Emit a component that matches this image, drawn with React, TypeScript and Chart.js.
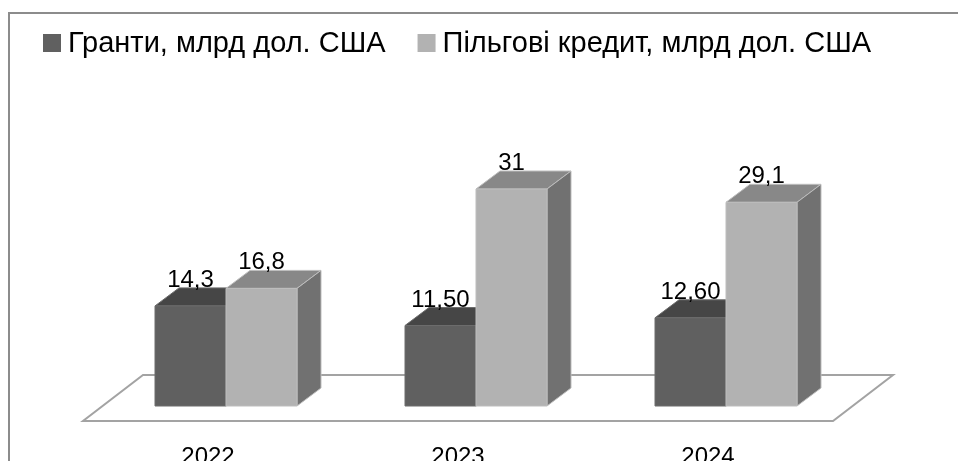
import { useEffect, useRef } from "react";
import { Chart, registerables } from "chart.js";

Chart.register(...registerables);

const categories = ["2022", "2023", "2024"];
const grantValues = [14.3, 11.5, 12.6];
const creditValues = [16.8, 31, 29.1];
const grantLabels = ["14,3", "11,50", "12,60"];
const creditLabels = ["16,8", "31", "29,1"];
const seriesNames = ["Гранти, млрд дол. США", "Пільгові кредит, млрд дол. США"];
const yMin = 0;
const yMax = 40;

const FONT = '"Liberation Sans", Arial, sans-serif';
const DX = 24;
const DY = 18;

const faces = [
  { front: "#606060", top: "#464646", side: "#545454", edge: "#6c6c6c" },
  { front: "#b2b2b2", top: "#888888", side: "#717171", edge: "#bdbdbd" },
];
const valueLabels = [grantLabels, creditLabels];

function poly(ctx: CanvasRenderingContext2D, pts: number[][], fill: string, stroke?: string) {
  ctx.beginPath();
  ctx.moveTo(pts[0][0], pts[0][1]);
  for (let i = 1; i < pts.length; i++) ctx.lineTo(pts[i][0], pts[i][1]);
  ctx.closePath();
  ctx.fillStyle = fill;
  ctx.fill();
  if (stroke) {
    ctx.strokeStyle = stroke;
    ctx.lineWidth = 1;
    ctx.stroke();
  }
}

const plugin3d = {
  id: "bars3d",
  beforeDraw(chart: any) {
    const ctx: CanvasRenderingContext2D = chart.ctx;
    ctx.save();
    ctx.fillStyle = "#ffffff";
    ctx.fillRect(0, 0, chart.width, chart.height);
    // outer frame
    ctx.strokeStyle = "#8c8c8c";
    ctx.lineWidth = 2;
    ctx.beginPath();
    ctx.moveTo(9, chart.height + 5);
    ctx.lineTo(9, 13);
    ctx.lineTo(chart.width + 5, 13);
    ctx.stroke();
    // legend
    ctx.font = `29px ${FONT}`;
    ctx.textBaseline = "middle";
    ctx.textAlign = "left";
    let x = 43;
    const cy = 43;
    chart.data.datasets.forEach((ds: any, i: number) => {
      ctx.fillStyle = faces[i].front;
      ctx.fillRect(x, cy - 9, 18, 18);
      ctx.fillStyle = "#000000";
      ctx.fillText(ds.label, x + 25, cy + 1);
      x += 25 + ctx.measureText(ds.label).width + 32;
    });
    ctx.restore();
  },
  beforeDatasetsDraw(chart: any) {
    const ctx: CanvasRenderingContext2D = chart.ctx;
    const area = chart.chartArea;
    const xs = chart.scales.x;
    const y0 = chart.scales.y.getPixelForValue(0);
    ctx.save();
    // floor
    poly(
      ctx,
      [
        [area.left - 18, y0 + 15],
        [area.right - 18, y0 + 15],
        [area.right + 42, y0 - 31],
        [area.left + 42, y0 - 31],
      ],
      "#ffffff",
    );
    ctx.strokeStyle = "#a3a3a3";
    ctx.lineWidth = 2;
    ctx.stroke();

    const metas = chart.data.datasets.map((_: any, d: number) => chart.getDatasetMeta(d));
    for (let i = 0; i < categories.length; i++) {
      metas.forEach((meta: any, d: number) => {
        const el = meta.data[i];
        const { x, y, base, width } = el.getProps(["x", "y", "base", "width"], true);
        const l = x - width / 2;
        const r = x + width / 2;
        const f = faces[d];
        poly(ctx, [[l, y], [r, y], [r + DX, y - DY], [l + DX, y - DY]], f.top, f.edge);
        poly(ctx, [[r, y], [r + DX, y - DY], [r + DX, base - DY], [r, base]], f.side, f.edge);
        poly(ctx, [[l, y], [r, y], [r, base], [l, base]], f.front, f.edge);
      });
    }
    // value labels
    ctx.font = `24px ${FONT}`;
    ctx.fillStyle = "#000000";
    ctx.textAlign = "center";
    ctx.textBaseline = "alphabetic";
    metas.forEach((meta: any, d: number) => {
      meta.data.forEach((el: any, i: number) => {
        const { x, y } = el.getProps(["x", "y"], true);
        ctx.fillText(valueLabels[d][i], x, y - 19);
      });
    });
    // category labels along floor front edge
    categories.forEach((c, i) => {
      ctx.fillText(c, xs.getPixelForValue(i) - 18, y0 + 58);
    });
    ctx.restore();
    return false;
  },
};

export default function App() {
  const ref = useRef<HTMLCanvasElement>(null);
  useEffect(() => {
    if (!ref.current) return;
    const chart = new Chart(ref.current, {
      type: "bar",
      data: {
        labels: categories,
        datasets: [
          { label: seriesNames[0], data: grantValues, backgroundColor: faces[0].front },
          { label: seriesNames[1], data: creditValues, backgroundColor: faces[1].front },
        ],
      },
      options: {
        responsive: false,
        animation: false,
        events: [],
        layout: { padding: { left: 101, right: 107, top: 126, bottom: 55 } },
        datasets: { bar: { categoryPercentage: 0.568, barPercentage: 1 } },
        scales: {
          x: { display: false, offset: true },
          y: { display: false, min: yMin, max: yMax },
        },
        plugins: { legend: { display: false }, tooltip: { enabled: false } },
      },
      plugins: [plugin3d],
    });
    return () => chart.destroy();
  }, []);
  return (
    <div style={{ position: "absolute", left: 0, top: 0, width: 958, height: 461 }}>
      <canvas ref={ref} width={958} height={461} style={{ display: "block" }} />
    </div>
  );
}
